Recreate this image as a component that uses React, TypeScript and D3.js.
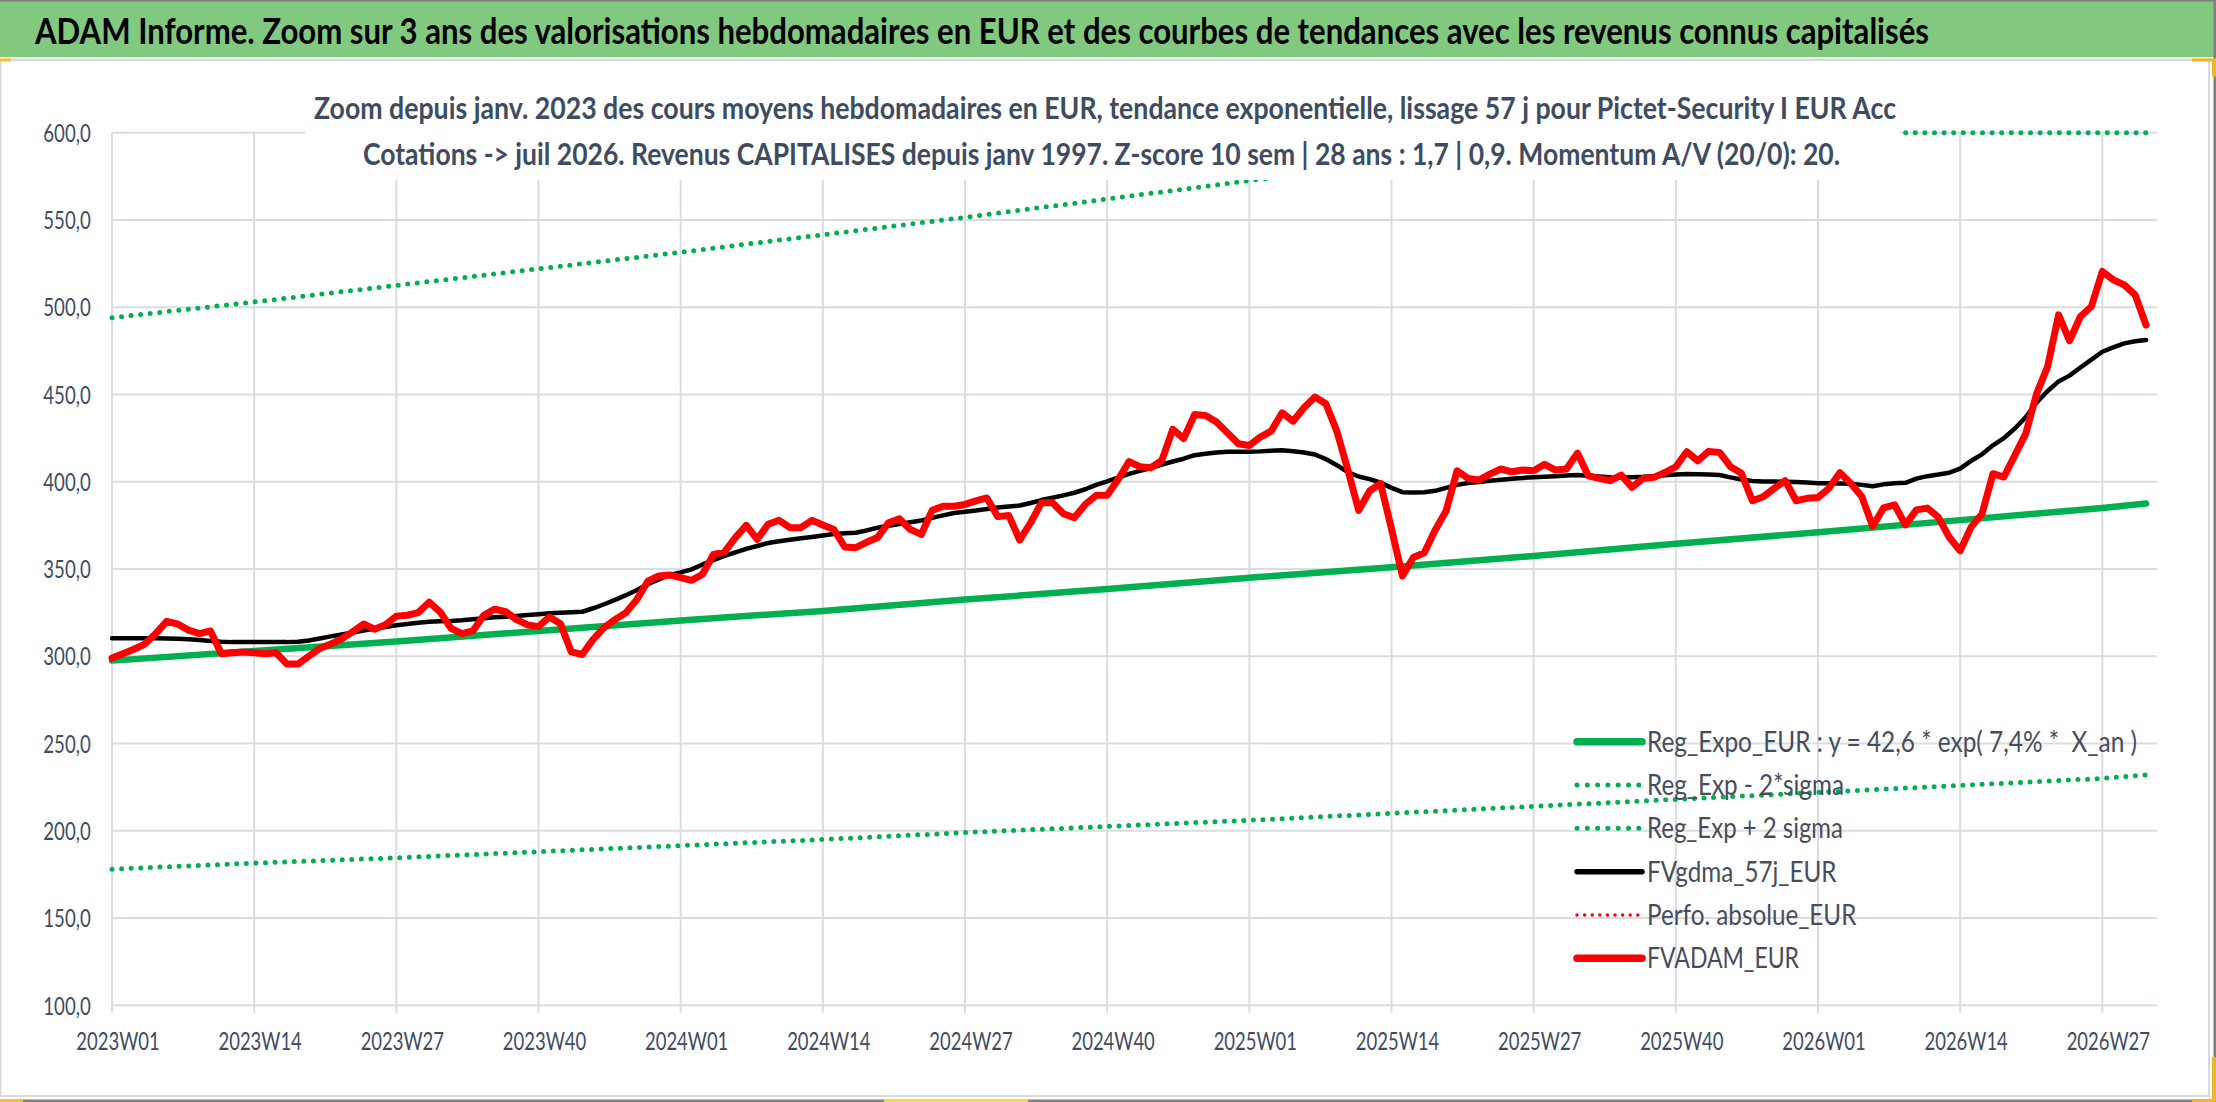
import * as d3 from "d3";

// --- Données (une valeur par semaine depuis 2023W01) ---

const tickLabels = [
  "2023W01", "2023W14", "2023W27", "2023W40",
  "2024W01", "2024W14", "2024W27", "2024W40",
  "2025W01", "2025W14", "2025W27", "2025W40",
  "2026W01", "2026W14", "2026W27",
];

const yTicks = [100, 150, 200, 250, 300, 350, 400, 450, 500, 550, 600];

const fvadamEur = [
  299, 301.5, 304, 307, 313, 320, 318.5, 315, 313, 314.5,
  301.5, 302, 302.5, 302, 301.5, 302, 295.5, 295.5, 300, 304.5,
  307, 310, 314, 318.5, 315.5, 318, 323, 323.5, 325, 331,
  325.5, 316, 313, 314.5, 323.5, 327, 325.5, 321, 318, 317,
  322.5, 318.7, 302.5, 301, 309.7, 316.4, 321, 325, 332.6, 343,
  346, 346.6, 345, 343.5, 347, 358.4, 359.7, 368, 375, 367,
  375.6, 377.9, 373.7, 373.7, 377.9, 375.2, 372.7, 362.6, 362.2, 365.3,
  368, 376.5, 378.8, 372.7, 369.8, 383.6, 386, 386, 387, 389,
  390.7, 380, 380.7, 366.6, 376.5, 388, 388, 381.7, 379.4, 387,
  392.2, 392.2, 401.3, 411.5, 408.6, 408, 412.2, 430, 424.8, 438.5,
  438, 434.2, 428, 421.8, 420.8, 425.6, 429, 439.5, 434.7, 442.4,
  448.5, 444.7, 429, 407, 383.6, 394.7, 399, 373, 346, 356.6,
  359.3, 372.3, 383.4, 406.3, 401.9, 401, 404.4, 407.3, 405.7, 406.7,
  406.3, 410, 406.7, 407.3, 416.4, 403.4, 401.9, 400.6, 403.8, 396.8,
  401.9, 402.5, 405.3, 408.6, 417.2, 412, 417.4, 416.8, 408.6, 404.8,
  389.1, 391.4, 396.2, 400.6, 389.1, 390.5, 391, 396.2, 405.2, 399,
  391.6, 374.5, 385, 386.8, 375.3, 383.9, 384.9, 379.7, 368.2, 360.5,
  374, 381.6, 404.6, 402.7, 415.1, 427.6, 450.6, 466, 495.6, 480.8,
  494.7, 500.4, 520.5, 515.7, 512.8, 507.1, 489.8,
];

const fvgdma57j = [
  310.3, 310.3, 310.3, 310.3, 310.3, 310.2, 310, 309.7, 309.3, 308.8,
  308.3, 308.1, 308.1, 308.1, 308.1, 308.1, 308.1, 308.3, 309, 310.2,
  311.4, 312.5, 313.6, 314.8, 315.8, 316.8, 317.8, 318.5, 319.2, 319.8,
  320.1, 320.2, 320.6, 321.2, 321.8, 322.3, 322.7, 323.1, 323.6, 324.1,
  324.6, 325, 325.2, 325.5, 327.5, 329.8, 332.3, 335, 338, 341.3,
  344, 346.6, 348.1, 349.8, 352.6, 355.1, 357.5, 359.5, 361.5, 363.2,
  364.9, 365.9, 366.8, 367.6, 368.3, 369.2, 370.1, 370.5, 370.8, 372.1,
  373.6, 374.8, 375.8, 376.8, 377.8, 379.3, 380.7, 382.1, 382.8, 383.5,
  384.4, 385.2, 385.8, 386.4, 387.8, 389.5, 390.8, 392.2, 393.7, 395.7,
  398.2, 400.2, 402.4, 404.5, 406.2, 407.8, 409.8, 411.6, 413.2, 415.2,
  416, 416.8, 417.2, 417.2, 417.2, 417.4, 417.8, 418, 417.5, 416.8,
  415.6, 413, 409.5, 405.5, 403, 401.5, 399.5, 396.5, 394, 393.9,
  394, 394.8, 396.5, 398.2, 399.3, 399.9, 400.6, 401.2, 401.7, 402.2,
  402.6, 402.9, 403.2, 403.6, 403.8, 403.4, 403, 402.6, 402.5, 402.6,
  402.8, 403.2, 403.7, 404.2, 404.4, 404.3, 404.1, 403.9, 402.5, 401.3,
  400.4, 400.2, 400.1, 400, 399.8, 399.5, 399.2, 399.1, 399, 398.8,
  398.2, 397.4, 398.5, 399.1, 399.4, 401.8, 403.2, 404.1, 405.2, 407.5,
  412, 415.7, 420.9, 425, 430.5, 437, 445.5, 452, 457.5, 460.8,
  465.5, 470, 474.5, 477, 479.3, 480.5, 481.2,
];

// tendances : valeurs lues aux semaines des étiquettes + dernière semaine
const trendWeeks = [0, 13, 26, 39, 52, 65, 78, 91, 104, 117, 130, 143, 156, 169, 182, 186];
const regExpoEur = [
  297.5, 303, 308.5, 314.5, 320.5, 326, 332.5, 338.5,
  345, 351, 357.5, 364.5, 371, 378, 385, 387.5,
];
const regUpper = [
  494, 503, 512.5, 522, 531.5, 541.5, 551.5, 562,
  572.5, 583, 594, 605, 616, 627.5, 639, 643,
];
const regLower = [
  178, 181.5, 184.5, 188, 191.5, 195, 199, 202.5,
  206, 210, 214, 218, 222, 226, 230, 232,
];

const headerText =
  "ADAM Informe. Zoom sur 3 ans des valorisations hebdomadaires en EUR et des courbes de tendances avec les revenus connus capitalisés";
const subtitleLines = [
  "Zoom depuis janv. 2023 des cours moyens hebdomadaires en EUR, tendance exponentielle, lissage 57 j pour Pictet-Security I EUR Acc",
  "Cotations -> juil 2026. Revenus CAPITALISES depuis janv 1997. Z-score 10 sem | 28 ans : 1,7 | 0,9. Momentum A/V (20/0): 20.",
];
const legendLabels = [
  "Reg_Expo_EUR : y = 42,6 * exp( 7,4% *  X_an )",
  "Reg_Exp - 2*sigma",
  "Reg_Exp + 2 sigma",
  "FVgdma_57j_EUR",
  "Perfo. absolue_EUR",
  "FVADAM_EUR",
];

// --- Mise en page ---

const SIZE = { width: 2216, height: 1102 };
const FONT = "Lato, 'Open Sans', sans-serif";
const SLATE = "#3E4C62";
const GREEN = "#00B050";

const PLOT = { left: 112, right: 2157, top: 132.7, bottom: 1005.3 };

// les polices du modèle sont étroites et hautes : on réduit la taille
// et on étire verticalement (stretch), puis textLength fixe la largeur
const HEADER = {
  height: 57,
  fill: "#80C97F",
  x: 35,
  baseline: 44,
  fontSize: 30,
  stretch: 36 / 30,
  textWidth: 1894,
};

const SUBTITLE = {
  box: { x: 305, y: 62, width: 1595, height: 118 },
  fontSize: 26,
  stretch: 30.5 / 26,
  lines: [
    { x: 314, baseline: 118.5, width: 1582 },
    { x: 363, baseline: 164.5, width: 1477 },
  ],
};

const AXIS = {
  fontSize: 25.5,
  yLabelRight: 90.7,
  yLabelWidth: 47.4,
  xLabelBaseline: 1050,
  xLabelWidth: 83.3,
  xLabelShift: 6,
  tickBelow: 7.5,
  gridColor: "#D9DDE3",
  gridWidth: 2,
};

const LEGEND = {
  lineX1: 1577,
  lineX2: 1642,
  textX: 1647,
  firstRow: 741.7,
  rowHeight: 43.33,
  fontSize: 28,
  color: "#454D5C",
  textWidths: [490, 197, 196, 189.4, 209.4, 152],
};

type LineStyle = {
  color: string;
  width: number;
  dash?: string;
};

const STYLE_REG: LineStyle = { color: GREEN, width: 6.5 };
const STYLE_SIGMA: LineStyle = { color: GREEN, width: 5, dash: "0 9.6" };
const STYLE_GDMA: LineStyle = { color: "#000000", width: 4.5 };
const STYLE_PERFO: LineStyle = { color: "#FF0000", width: 3.5, dash: "0 7.6" };
const STYLE_ADAM: LineStyle = { color: "#FF0000", width: 7 };

const legendStyles: LineStyle[] = [
  { ...STYLE_REG, width: 7.5 },
  { ...STYLE_SIGMA, dash: "0 10.3" },
  { ...STYLE_SIGMA, dash: "0 10.3" },
  { ...STYLE_GDMA, width: 5.5 },
  STYLE_PERFO,
  { ...STYLE_ADAM, width: 7.5 },
];

export default function App() {
  const x = d3.scaleLinear().domain([0, 187]).range([PLOT.left, PLOT.right]);
  const y = d3.scaleLinear().domain([100, 600]).range([PLOT.bottom, PLOT.top]);
  const yMax = y.domain()[1];

  const weeklyLine = d3
    .line<number>()
    .x((_, i) => x(i))
    .y((d) => y(d));

  // Excel rabat la courbe au bord haut de la zone de tracé
  const trendLine = d3
    .line<number>()
    .x((_, i) => x(trendWeeks[i]))
    .y((d) => y(Math.min(d, yMax)));

  const tickWeeks = tickLabels.map((_, i) => i * 13);

  const pathProps = (s: LineStyle) => ({
    fill: "none",
    stroke: s.color,
    strokeWidth: s.width,
    strokeDasharray: s.dash,
    strokeLinecap: "round" as const,
    strokeLinejoin: "round" as const,
  });

  return (
    <div style={{ position: "fixed", left: 0, top: 0 }}>
      <svg
        width={SIZE.width}
        height={SIZE.height}
        viewBox={`0 0 ${SIZE.width} ${SIZE.height}`}
        style={{ display: "block", background: "#fff" }}
      >
        {/* bandeau titre */}
        <rect x={0} y={0} width={SIZE.width} height={HEADER.height} fill={HEADER.fill} />
        <rect x={0} y={0} width={SIZE.width} height={1.5} fill="#7F7F7F" />
        <rect x={0} y={58.5} width={SIZE.width} height={2.5} fill="#D9D9D9" />
        <text
          transform={`translate(${HEADER.x},${HEADER.baseline}) scale(1,${HEADER.stretch})`}
          fontFamily={FONT}
          fontSize={HEADER.fontSize}
          fontWeight="bold"
          fill="#000"
          textLength={HEADER.textWidth}
          lengthAdjust="spacingAndGlyphs"
        >
          {headerText}
        </text>

        {/* grille horizontale */}
        {yTicks.map((t) => (
          <line
            key={`h${t}`}
            x1={PLOT.left}
            x2={PLOT.right}
            y1={y(t)}
            y2={y(t)}
            stroke={AXIS.gridColor}
            strokeWidth={AXIS.gridWidth}
          />
        ))}
        {/* grille verticale + graduations */}
        {tickWeeks.map((w) => (
          <line
            key={`v${w}`}
            x1={x(w)}
            x2={x(w)}
            y1={PLOT.top}
            y2={PLOT.bottom + AXIS.tickBelow}
            stroke={AXIS.gridColor}
            strokeWidth={AXIS.gridWidth}
          />
        ))}

        {/* étiquettes Y */}
        {yTicks.map((t) => (
          <text
            key={`yl${t}`}
            x={AXIS.yLabelRight}
            y={y(t) + 9.2}
            textAnchor="end"
            fontFamily={FONT}
            fontSize={AXIS.fontSize}
            fill={SLATE}
            textLength={AXIS.yLabelWidth}
            lengthAdjust="spacingAndGlyphs"
          >
            {t.toFixed(1).replace(".", ",")}
          </text>
        ))}

        {/* étiquettes X */}
        {tickLabels.map((label, i) => (
          <text
            key={label}
            x={x(tickWeeks[i]) + AXIS.xLabelShift}
            y={AXIS.xLabelBaseline}
            textAnchor="middle"
            fontFamily={FONT}
            fontSize={AXIS.fontSize}
            fill={SLATE}
            textLength={AXIS.xLabelWidth}
            lengthAdjust="spacingAndGlyphs"
          >
            {label}
          </text>
        ))}

        {/* séries */}
        <path d={trendLine(regLower) ?? ""} {...pathProps(STYLE_SIGMA)} />
        <path d={trendLine(regUpper) ?? ""} {...pathProps(STYLE_SIGMA)} />
        <path d={trendLine(regExpoEur) ?? ""} {...pathProps(STYLE_REG)} />
        <path d={weeklyLine(fvgdma57j) ?? ""} {...pathProps(STYLE_GDMA)} />
        <path d={weeklyLine(fvadamEur) ?? ""} {...pathProps(STYLE_ADAM)} />

        {/* sous-titre sur fond blanc */}
        <rect
          x={SUBTITLE.box.x}
          y={SUBTITLE.box.y}
          width={SUBTITLE.box.width}
          height={SUBTITLE.box.height}
          fill="#fff"
        />
        {subtitleLines.map((line, i) => (
          <text
            key={`st${i}`}
            transform={`translate(${SUBTITLE.lines[i].x},${SUBTITLE.lines[i].baseline}) scale(1,${SUBTITLE.stretch})`}
            fontFamily={FONT}
            fontSize={SUBTITLE.fontSize}
            fontWeight="bold"
            fill={SLATE}
            textLength={SUBTITLE.lines[i].width}
            lengthAdjust="spacingAndGlyphs"
          >
            {line}
          </text>
        ))}

        {/* légende */}
        {legendLabels.map((label, i) => {
          const cy = LEGEND.firstRow + i * LEGEND.rowHeight;
          return (
            <g key={label}>
              <line
                x1={LEGEND.lineX1}
                x2={LEGEND.lineX2}
                y1={cy}
                y2={cy}
                {...pathProps(legendStyles[i])}
              />
              <text
                x={LEGEND.textX}
                y={cy + 10}
                fontFamily={FONT}
                fontSize={LEGEND.fontSize}
                fill={LEGEND.color}
                textLength={LEGEND.textWidths[i]}
                lengthAdjust="spacingAndGlyphs"
                style={{ whiteSpace: "pre" }}
              >
                {label}
              </text>
            </g>
          );
        })}

        {/* cadre de la feuille */}
        <rect x={0} y={61} width={1.5} height={1036} fill="#D9D9D9" />
        <rect x={2208} y={61} width={2} height={1035} fill="#D9D9D9" />
        <rect x={2213.5} y={0} width={2.5} height={SIZE.height} fill="#808080" />
        <rect x={0} y={1095} width={2210} height={2} fill="#D9D9D9" />
        <rect x={0} y={1099.5} width={SIZE.width} height={2.5} fill="#808080" />
        {/* poignées de sélection */}
        <rect x={0} y={58.5} width={11} height={3} fill="#F2C12E" />
        <rect x={0} y={1099} width={23} height={3} fill="#F2C12E" />
        <rect x={884} y={1099} width={144} height={3} fill="#F2D94E" />
        <rect x={2192} y={58.5} width={24} height={3} fill="#F0B428" />
        <rect x={2212} y={58.5} width={4} height={18} fill="#F0B428" />
        <rect x={2212} y={1057} width={4} height={45} fill="#F0B428" />
        <rect x={2192} y={1099} width={24} height={3} fill="#F0B428" />
      </svg>
    </div>
  );
}
